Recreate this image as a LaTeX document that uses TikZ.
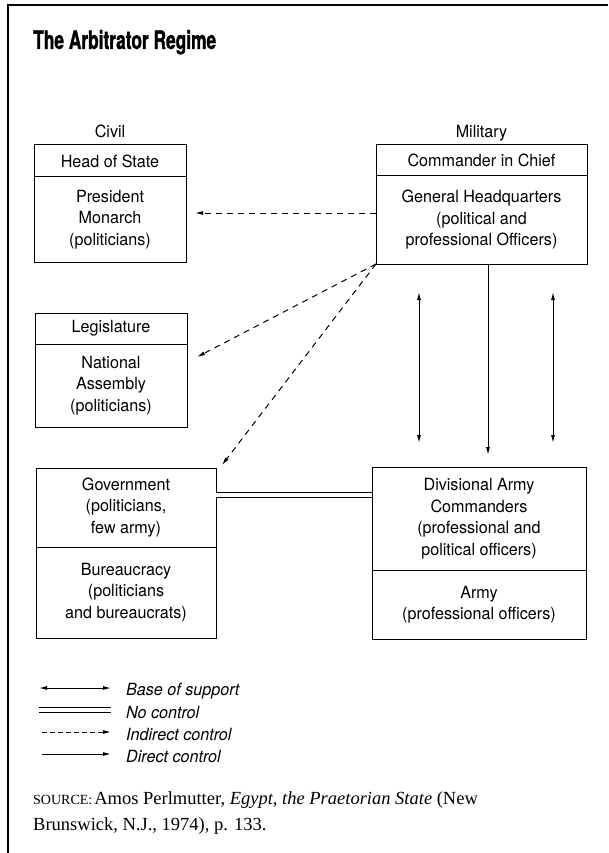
\documentclass[tikz,border=0pt]{standalone}
\usepackage{fontspec}
\usepackage{tikz}
\usetikzlibrary{positioning}
\usetikzlibrary{calc}
\usetikzlibrary{arrows.meta}

\setmainfont{Liberation Serif}
\newfontfamily\heros{TeX Gyre Heros}[FakeStretch=0.96]
\newfontfamily\heroscn{TeX Gyre Heros}[FakeStretch=0.68,FakeBold=1.2]

\begin{document}
\begin{tikzpicture}[x=1pt, y=1pt, >={Latex[length=8pt,width=4pt]}]
% tikz settings
\tikzstyle{block} = [rectangle, draw, line width=1pt, inner sep=0pt, outer sep=0pt,
    align=center, font=\heros\fontsize{16.8}{21.5}\selectfont]
\tikzstyle{side} = [inner sep=0pt, font=\heros\fontsize{16.8}{21.5}\selectfont]
\tikzstyle{key} = [inner sep=0pt, anchor=base west, font=\heros\itshape\fontsize{16.8}{21.5}\selectfont]
\tikzstyle{support} = [draw, line width=1pt, <->]
\tikzstyle{direct} = [draw, line width=1pt, ->]
\tikzstyle{indirect} = [draw, line width=1pt, ->, dash pattern=on 6pt off 5pt]
\tikzstyle{nocontrol} = [draw, line width=1pt, double, double distance=4.5pt]

\useasboundingbox (0,0) rectangle (608,-853);

% frame and title
\draw [line width=2pt] (8,-853) -- (8,-5) -- (608,-5);
\node [anchor=base west, inner sep=0pt, font=\heroscn\bfseries\fontsize{25.5}{28}\selectfont] (title) at (33,-49) {The Arbitrator Regime};

% the tikz picture
\node [block, minimum width=152pt, minimum height=32pt] (civilhead) at (110,-161) {Head of State};
\node [block, minimum width=152pt, minimum height=85pt, below=0pt of civilhead] (civilbody) {President\\ Monarch\\ (politicians)};
\node [side, above=7pt of civilhead, anchor=base] (civil) {Civil};

\node [block, minimum width=211pt, minimum height=31pt] (milhead) at (481.5,-160.5) {Commander in Chief};
\node [block, minimum width=211pt, minimum height=88pt, below=0pt of milhead] (milbody) {General Headquarters\\ (political and\\ professional Officers)};
\node [side, above=7pt of milhead, anchor=base] (military) {Military};

\node [block, minimum width=152pt, minimum height=31pt] (leghead) at (111,-328.5) {Legislature};
\node [block, minimum width=152pt, minimum height=83pt, below=0pt of leghead] (legbody) {National\\ Assembly\\ (politicians)};

\node [block, minimum width=180pt, minimum height=79pt] (govtop) at (126,-507.5) {Government\\ (politicians,\\ few army)};
\node [block, minimum width=180pt, minimum height=91pt, below=0pt of govtop] (govbottom) {Bureaucracy\\ (politicians\\ and bureaucrats)};

\node [block, minimum width=214pt, minimum height=103pt] (divtop) at (479,-518.5) {Divisional Army\\ Commanders\\ (professional and\\ political officers)};
\node [block, minimum width=214pt, minimum height=69pt, below=0pt of divtop] (divbottom) {Army\\ (professional officers)};

% connectors
\draw [indirect] ([yshift=7pt]milbody.west) -- ([xshift=9pt,yshift=6.5pt]civilbody.east);
\draw [indirect] (milbody.south west) -- ([xshift=10pt,yshift=28.5pt]legbody.east);
\draw [indirect] (milbody.south west) -- ([xshift=6pt,yshift=3pt]govtop.north east);
\draw [direct] ([xshift=6.5pt]milbody.south) -- ([xshift=9pt,yshift=12pt]divtop.north);
\draw [support] ([xshift=-62.5pt,yshift=-28pt]milbody.south) -- ([xshift=-60pt,yshift=24pt]divtop.north);
\draw [support] ([xshift=71.5pt,yshift=-28pt]milbody.south) -- ([xshift=74pt,yshift=24pt]divtop.north);
\draw [nocontrol] ([yshift=12.5pt]govtop.east) -- ([yshift=23.5pt]divtop.west);

% legend
\coordinate (k1a) at (39,-688);
\coordinate (k1b) at (111,-688);
\coordinate (k2a) at (39,-710);
\coordinate (k2b) at (111,-710);
\coordinate (k3a) at (42,-732);
\coordinate (k3b) at (111,-732);
\coordinate (k4a) at (42,-754);
\coordinate (k4b) at (111,-754);
\draw [support] (k1a) -- (k1b);
\draw [nocontrol] (k2a) -- (k2b);
\draw [indirect, dash pattern=on 5pt off 3pt] (k3a) -- (k3b);
\draw [direct] (k4a) -- (k4b);
\node [key] (k1text) at ($(k1b)+(15,-7)$) {Base of support};
\node [key] (k2text) at ($(k2b)+(15,-8)$) {No control};
\node [key] (k3text) at ($(k3b)+(15,-8)$) {Indirect control};
\node [key] (k4text) at ($(k4b)+(15,-8)$) {Direct control};

% source line
\node [anchor=north west, inner sep=0pt, align=left, font=\fontsize{18.5}{26}\selectfont] (source) at (33,-791)
    {{\fontsize{14}{26}\selectfont SOURCE:}\kern2pt Amos Perlmutter, \emph{Egypt, the Praetorian State} (New\\ Brunswick, N.J., 1974), p. 133.};
\end{tikzpicture}
\end{document}
